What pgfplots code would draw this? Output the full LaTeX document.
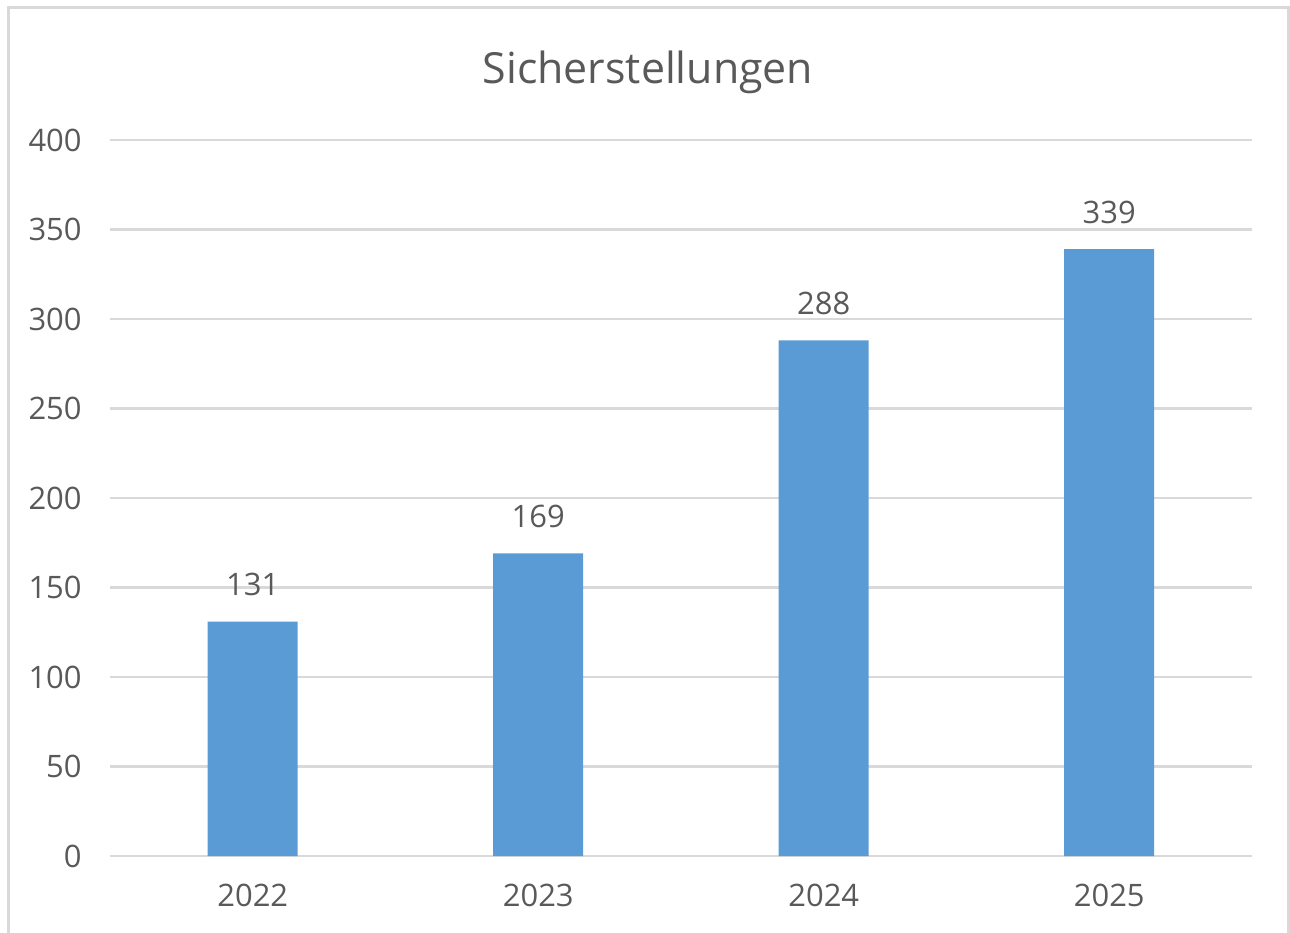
\documentclass[border=0pt]{standalone}
\usepackage{pgfplots}
\pgfplotsset{compat=1.18}
\usepackage{fontspec}
\setmainfont{Open Sans}
\definecolor{txt}{HTML}{595959}
\definecolor{gridc}{HTML}{D9D9D9}
\definecolor{barc}{HTML}{5B9BD5}
\begin{document}
\begin{tikzpicture}
\path[use as bounding box] (0,0) rectangle (12.9,-9.33);
\draw[gridc, line width=0.3mm] (0.08,-9.33) -- (0.08,-0.08) -- (12.88,-0.08) -- (12.88,-9.33);
\node[txt, font=\fontsize{12.2}{15}\selectfont] at (6.48,-0.72) {Sicherstellungen};
\begin{axis}[
  at={(1.10cm,-8.56cm)}, anchor=south west,
  scale only axis, width=11.42cm, height=7.16cm,
  ybar, bar width=0.9cm,
  xmin=-0.5, xmax=3.5, ymin=0, ymax=400,
  xtick={0,1,2,3}, xticklabels={2022,2023,2024,2025},
  ytick={0,50,100,150,200,250,300,350,400},
  axis x line*=bottom, axis y line*=left,
  x axis line style={gridc, line width=0.8pt},
  y axis line style={draw=none},
  ymajorgrids, grid style={gridc, line width=0.8pt},
  major tick length=0pt,
  ticklabel style={txt, font=\fontsize{8.8}{11}\selectfont},
  xticklabel style={yshift=-1.6mm},
  yticklabel style={xshift=-1.6mm},
  /pgf/number format/assume math mode=true,
  nodes near coords,
  nodes near coords style={txt, font=\fontsize{8.8}{11}\selectfont, yshift=1.3mm},
  clip=false,
]
\addplot[fill=barc, draw=none] coordinates {(0,131) (1,169) (2,288) (3,339)};
\end{axis}
\end{tikzpicture}
\end{document}
